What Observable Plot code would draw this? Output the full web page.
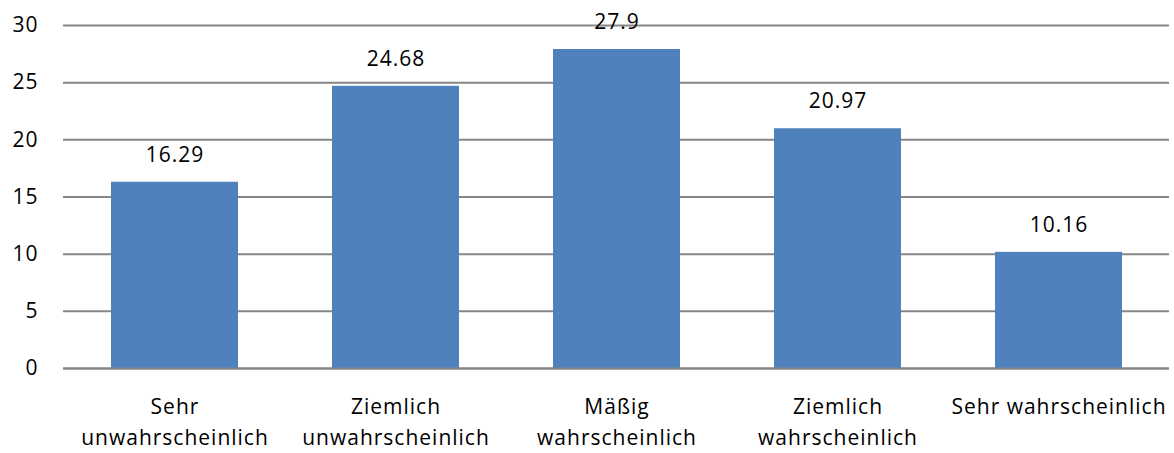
<!DOCTYPE html>
<html>
<head>
<meta charset="utf-8">
<script src="https://cdn.jsdelivr.net/npm/d3@7"></script>
<script src="https://cdn.jsdelivr.net/npm/@observablehq/plot@0.6"></script>
<style>
  body { margin: 0; background: #fff; }
  #chart svg { display: block; }
  #chart svg text { letter-spacing: 1px; }
</style>
</head>
<body>
<div id="chart"></div>
<script>
const categories = ["Sehr unwahrscheinlich", "Ziemlich unwahrscheinlich", "Mäßig wahrscheinlich", "Ziemlich wahrscheinlich", "Sehr wahrscheinlich"];
const tickLabels = ["Sehr\nunwahrscheinlich", "Ziemlich\nunwahrscheinlich", "Mäßig\nwahrscheinlich", "Ziemlich\nwahrscheinlich", "Sehr wahrscheinlich"];
const values = [16.29, 24.68, 27.9, 20.97, 10.16];
const yTicks = [0, 5, 10, 15, 20, 25, 30];

const data = categories.map((c, i) => ({category: c, value: values[i]}));
const labelOf = new Map(categories.map((c, i) => [c, tickLabels[i]]));

const FS = 21;
const chart = Plot.plot({
  width: 1174,
  height: 453,
  marginLeft: 63,
  marginRight: 5,
  marginTop: 25,
  marginBottom: 85,
  style: {fontFamily: "'Open Sans', sans-serif", fontSize: FS + "px", color: "#000", background: "#fff"},
  x: {domain: categories, paddingInner: 0.426, paddingOuter: 0.213, label: null},
  y: {domain: [0, 30], label: null},
  marks: [
    Plot.gridY(yTicks, {stroke: "#868686", strokeOpacity: 1, strokeWidth: 2}),
    Plot.barY(data, {x: "category", y: "value", fill: "#4F81BD"}),
    Plot.ruleY([0], {stroke: "#868686", strokeWidth: 2}),
    Plot.text(data, {x: "category", y: "value", text: d => String(d.value), dy: -27, fontSize: FS, fill: "#000"}),
    Plot.axisY({ticks: yTicks, tickSize: 0, tickPadding: 25, fontSize: FS, label: null}),
    Plot.axisX({tickSize: 0, tickPadding: 24, fontSize: FS, label: null, lineHeight: 1.45, tickFormat: d => labelOf.get(d)})
  ]
});
document.getElementById("chart").append(chart);
</script>
</body>
</html>
